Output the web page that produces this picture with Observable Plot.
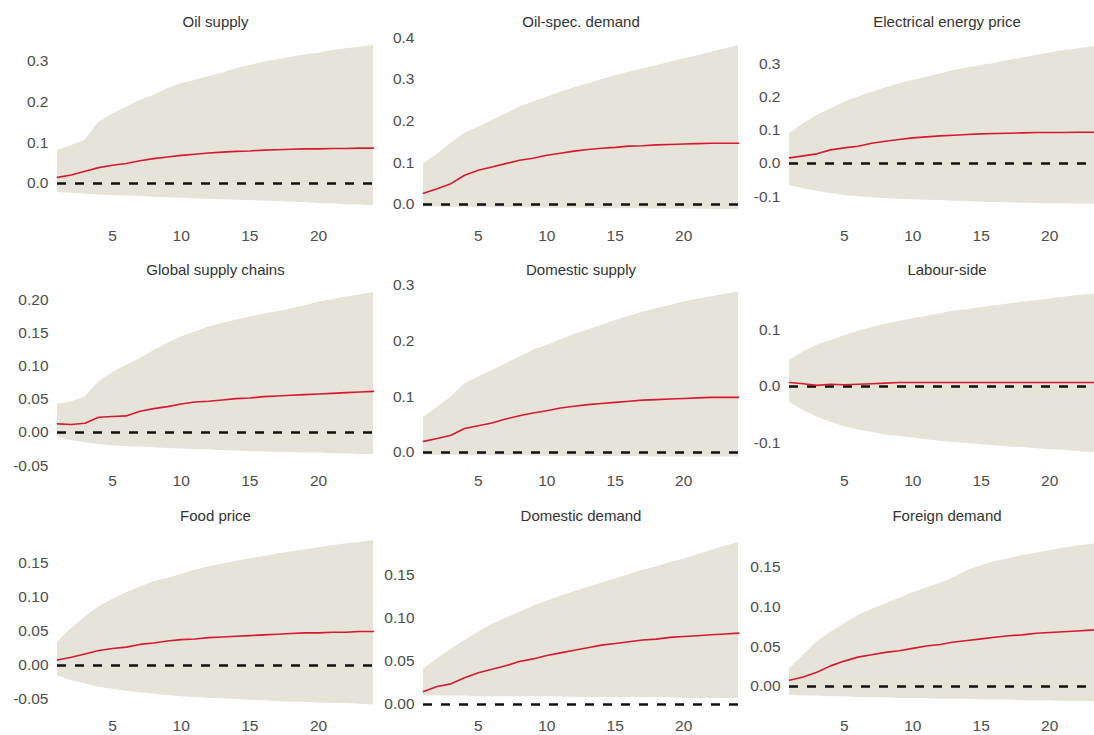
<!DOCTYPE html>
<html>
<head>
<meta charset="utf-8">
<script src="https://cdn.jsdelivr.net/npm/d3@7"></script>
<script src="https://cdn.jsdelivr.net/npm/@observablehq/plot@0.6"></script>
<style>
  html, body { margin: 0; padding: 0; background: #fff; overflow: hidden; }
  #grid { position: relative; width: 1094px; height: 735px; overflow: hidden; background: #fff; }
  .panel { position: absolute; }
  .panel svg { max-width: none !important; }
</style>
</head>
<body>
<div id="grid"></div>
<script>
// Forecast horizon (months)
const horizon = [1,2,3,4,5,6,7,8,9,10,11,12,13,14,15,16,17,18,19,20,21,22,23,24];
const xTicks = [5, 10, 15, 20];

const titles = [
  "Oil supply", "Oil-spec. demand", "Electrical energy price",
  "Global supply chains", "Domestic supply", "Labour-side",
  "Food price", "Domestic demand", "Foreign demand"
];

// Median responses
const oilSupplyMed = [0.015,0.021,0.030,0.039,0.045,0.049,0.056,0.061,0.065,0.069,0.072,0.075,0.077,0.079,0.080,0.082,0.083,0.084,0.085,0.085,0.086,0.086,0.087,0.087];
const oilDemandMed = [0.027,0.038,0.050,0.070,0.082,0.090,0.098,0.106,0.111,0.118,0.123,0.128,0.132,0.135,0.137,0.140,0.141,0.143,0.144,0.145,0.146,0.147,0.147,0.147];
const electricMed = [0.017,0.023,0.029,0.041,0.047,0.052,0.061,0.067,0.072,0.077,0.080,0.083,0.085,0.087,0.089,0.090,0.091,0.092,0.093,0.093,0.093,0.094,0.094,0.094];
const supplyChainMed = [0.013,0.012,0.014,0.023,0.024,0.025,0.032,0.036,0.039,0.043,0.046,0.047,0.049,0.051,0.052,0.054,0.055,0.056,0.057,0.058,0.059,0.060,0.061,0.062];
const domSupplyMed = [0.020,0.025,0.031,0.043,0.048,0.053,0.060,0.066,0.071,0.075,0.080,0.083,0.086,0.088,0.090,0.092,0.094,0.095,0.096,0.097,0.098,0.099,0.099,0.099];
const labourMed = [0.007,0.005,0.002,0.004,0.003,0.004,0.005,0.006,0.007,0.007,0.007,0.007,0.007,0.007,0.007,0.007,0.007,0.007,0.007,0.007,0.007,0.007,0.007,0.007];
const foodMed = [0.008,0.012,0.017,0.022,0.025,0.027,0.031,0.033,0.036,0.038,0.039,0.041,0.042,0.043,0.044,0.045,0.046,0.047,0.048,0.048,0.049,0.049,0.050,0.050];
const domDemandMed = [0.015,0.021,0.024,0.031,0.037,0.041,0.045,0.050,0.053,0.057,0.060,0.063,0.066,0.069,0.071,0.073,0.075,0.076,0.078,0.079,0.080,0.081,0.082,0.083];
const forDemandMed = [0.008,0.012,0.018,0.026,0.032,0.037,0.040,0.043,0.045,0.048,0.051,0.053,0.056,0.058,0.060,0.062,0.064,0.065,0.067,0.068,0.069,0.070,0.071,0.072];

// Lower credible bounds
const oilSupplyLo = [-0.022,-0.024,-0.026,-0.028,-0.030,-0.031,-0.032,-0.034,-0.035,-0.036,-0.038,-0.039,-0.040,-0.041,-0.042,-0.043,-0.044,-0.046,-0.047,-0.049,-0.050,-0.052,-0.053,-0.055];
const oilDemandLo = [-0.006,-0.006,-0.007,-0.007,-0.007,-0.008,-0.008,-0.008,-0.008,-0.009,-0.009,-0.009,-0.009,-0.010,-0.010,-0.010,-0.010,-0.011,-0.011,-0.011,-0.011,-0.012,-0.012,-0.012];
const electricLo = [-0.066,-0.076,-0.083,-0.090,-0.096,-0.100,-0.103,-0.105,-0.107,-0.109,-0.110,-0.111,-0.113,-0.114,-0.116,-0.117,-0.118,-0.119,-0.120,-0.121,-0.121,-0.122,-0.122,-0.123];
const supplyChainLo = [-0.007,-0.012,-0.015,-0.018,-0.020,-0.021,-0.022,-0.023,-0.024,-0.025,-0.026,-0.026,-0.027,-0.028,-0.029,-0.029,-0.030,-0.030,-0.031,-0.031,-0.032,-0.032,-0.033,-0.033];
const domSupplyLo = [-0.005,-0.005,-0.005,-0.006,-0.006,-0.006,-0.006,-0.006,-0.006,-0.007,-0.007,-0.007,-0.007,-0.007,-0.007,-0.007,-0.007,-0.008,-0.008,-0.008,-0.008,-0.008,-0.008,-0.008];
const labourLo = [-0.028,-0.042,-0.054,-0.063,-0.071,-0.077,-0.081,-0.086,-0.088,-0.091,-0.094,-0.097,-0.099,-0.101,-0.103,-0.105,-0.107,-0.108,-0.110,-0.112,-0.113,-0.115,-0.117,-0.118];
const foodLo = [-0.015,-0.022,-0.027,-0.032,-0.035,-0.038,-0.040,-0.042,-0.044,-0.046,-0.047,-0.048,-0.049,-0.050,-0.051,-0.052,-0.053,-0.054,-0.054,-0.055,-0.056,-0.056,-0.057,-0.058];
const domDemandLo = [0.010,0.010,0.010,0.010,0.009,0.009,0.009,0.009,0.009,0.009,0.009,0.008,0.008,0.008,0.008,0.008,0.008,0.008,0.008,0.007,0.007,0.007,0.007,0.007];
const forDemandLo = [-0.011,-0.012,-0.012,-0.013,-0.013,-0.014,-0.014,-0.014,-0.015,-0.015,-0.015,-0.016,-0.016,-0.016,-0.017,-0.017,-0.017,-0.018,-0.018,-0.018,-0.019,-0.019,-0.019,-0.020];

// Upper credible bounds
const oilSupplyHi = [0.081,0.093,0.106,0.150,0.170,0.187,0.204,0.216,0.233,0.245,0.253,0.263,0.271,0.282,0.290,0.298,0.304,0.310,0.316,0.320,0.327,0.331,0.335,0.339];
const oilDemandHi = [0.098,0.120,0.146,0.170,0.185,0.201,0.217,0.233,0.245,0.257,0.269,0.280,0.289,0.299,0.309,0.317,0.325,0.333,0.341,0.349,0.357,0.365,0.373,0.381];
const electricHi = [0.089,0.119,0.144,0.164,0.184,0.199,0.214,0.227,0.239,0.249,0.259,0.269,0.279,0.287,0.294,0.301,0.309,0.317,0.324,0.331,0.339,0.344,0.349,0.354];
const supplyChainHi = [0.043,0.046,0.053,0.076,0.090,0.101,0.111,0.123,0.134,0.144,0.151,0.159,0.164,0.169,0.174,0.178,0.182,0.186,0.191,0.196,0.200,0.204,0.207,0.211];
const domSupplyHi = [0.063,0.081,0.099,0.123,0.135,0.147,0.159,0.171,0.183,0.192,0.202,0.212,0.220,0.228,0.237,0.244,0.252,0.258,0.264,0.270,0.275,0.279,0.284,0.288];
const labourHi = [0.046,0.061,0.073,0.081,0.090,0.098,0.104,0.110,0.115,0.120,0.124,0.129,0.133,0.136,0.140,0.143,0.146,0.149,0.152,0.155,0.158,0.161,0.163,0.165];
const foodHi = [0.034,0.054,0.071,0.086,0.097,0.107,0.115,0.123,0.128,0.134,0.140,0.145,0.149,0.153,0.157,0.160,0.164,0.167,0.170,0.173,0.176,0.179,0.181,0.184];
const domDemandHi = [0.041,0.053,0.064,0.074,0.084,0.093,0.100,0.107,0.114,0.120,0.126,0.131,0.136,0.141,0.146,0.151,0.156,0.160,0.165,0.169,0.174,0.179,0.184,0.188];
const forDemandHi = [0.022,0.039,0.056,0.068,0.079,0.089,0.097,0.104,0.111,0.118,0.124,0.130,0.137,0.146,0.152,0.157,0.161,0.165,0.168,0.171,0.174,0.177,0.179,0.182];

// Y-axis tick values and limits per panel
const yTicks = [
  [0, 0.1, 0.2, 0.3],
  [0, 0.1, 0.2, 0.3, 0.4],
  [-0.1, 0, 0.1, 0.2, 0.3],
  [-0.05, 0, 0.05, 0.10, 0.15, 0.20],
  [0, 0.1, 0.2, 0.3],
  [-0.1, 0, 0.1],
  [-0.05, 0, 0.05, 0.10, 0.15],
  [0, 0.05, 0.10, 0.15],
  [0, 0.05, 0.10, 0.15]
];
const yDecimals = [1, 1, 1, 2, 1, 1, 2, 2, 2];
const yLimits = [
  [-0.0713, 0.3612],
  [-0.0192, 0.4029],
  [-0.1471, 0.3814],
  [-0.0542, 0.2259],
  [-0.0287, 0.3052],
  [-0.1451, 0.1841],
  [-0.0662, 0.1912],
  [-0.0070, 0.1965],
  [-0.0302, 0.1902]
];

const medians = [oilSupplyMed, oilDemandMed, electricMed, supplyChainMed, domSupplyMed, labourMed, foodMed, domDemandMed, forDemandMed];
const lowers = [oilSupplyLo, oilDemandLo, electricLo, supplyChainLo, domSupplyLo, labourLo, foodLo, domDemandLo, forDemandLo];
const uppers = [oilSupplyHi, oilDemandHi, electricHi, supplyChainHi, domSupplyHi, labourHi, foodHi, domDemandHi, forDemandHi];

// Grid geometry
const columns = [
  {left: 0,   width: 380, ml: 57, mr: 7},
  {left: 380, width: 365, ml: 43, mr: 7},
  {left: 745, width: 365, ml: 44, mr: 6}
];
const rows = [
  {top: 0,   height: 245, mt: 36, mb: 33, pad: 17, titleDy: -14},
  {top: 245, height: 245, mt: 37, mb: 22, pad: 6,  titleDy: -12},
  {top: 490, height: 245, mt: 45, mb: 25, pad: 9,  titleDy: -19}
];

const locale = d3.formatLocale({decimal: ".", thousands: ",", grouping: [3], currency: ["", ""], minus: "-"});
const bandColor = "#e6e3d8";
const lineColor = "#d7192f";
const grid = document.getElementById("grid");

titles.forEach((title, i) => {
  const col = columns[i % 3];
  const row = rows[Math.floor(i / 3)];
  const data = horizon.map((h, k) => ({h, med: medians[i][k], lo: lowers[i][k], hi: uppers[i][k]}));
  const fmt = locale.format("." + yDecimals[i] + "f");

  const chart = Plot.plot({
    width: col.width,
    height: row.height,
    marginLeft: col.ml,
    marginRight: col.mr,
    marginTop: row.mt,
    marginBottom: row.mb,
    style: {
      fontFamily: "'Liberation Sans', Arial, Helvetica, sans-serif",
      fontSize: "15.5px",
      color: "#4d4d4d",
      background: "transparent",
      maxWidth: "none"
    },
    x: {domain: [1, 24]},
    y: {domain: yLimits[i]},
    marks: [
      Plot.areaY(data, {x: "h", y1: "lo", y2: "hi", fill: bandColor}),
      Plot.ruleY([0], {stroke: "#111", strokeWidth: 2.6, strokeDasharray: "9,9"}),
      Plot.lineY(data, {x: "h", y: "med", stroke: lineColor, strokeWidth: 1.6}),
      Plot.axisY({ticks: yTicks[i], tickSize: 0, tickPadding: 9, tickFormat: fmt, label: null}),
      Plot.axisX({ticks: xTicks, tickSize: 0, tickPadding: row.pad, tickFormat: d => String(d), label: null}),
      Plot.text([title], {frameAnchor: "top", lineAnchor: "middle", dy: row.titleDy, fill: "#333", fontSize: 15})
    ]
  });

  const holder = document.createElement("div");
  holder.className = "panel";
  holder.style.left = col.left + "px";
  holder.style.top = row.top + "px";
  holder.style.width = col.width + "px";
  holder.style.height = row.height + "px";
  holder.appendChild(chart);
  grid.appendChild(holder);
});
</script>
</body>
</html>
